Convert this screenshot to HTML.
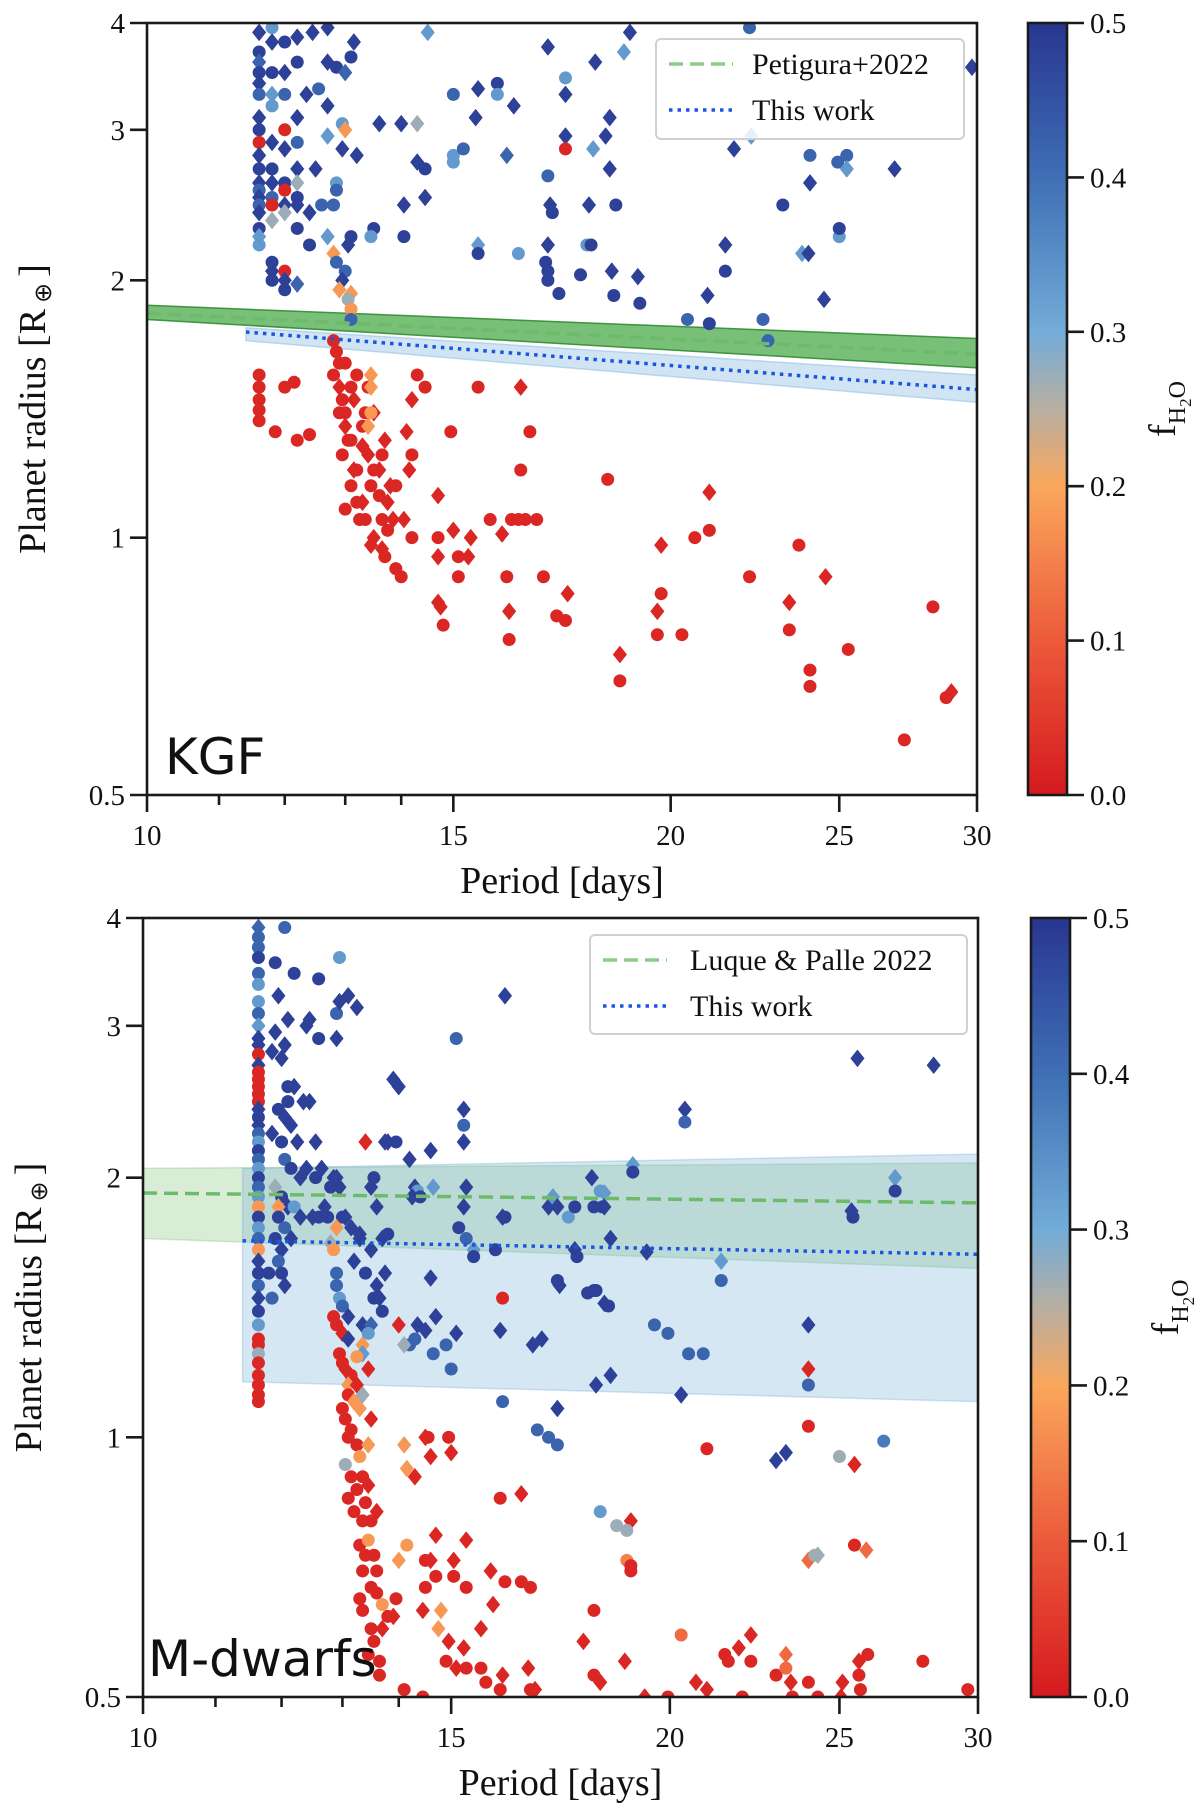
<!DOCTYPE html>
<html><head><meta charset="utf-8">
<style>
html,body{margin:0;padding:0;background:#fff;}
svg{display:block;}
text{font-family:"Liberation Serif",serif;fill:#111;}
</style></head>
<body>
<svg id="fig" xmlns="http://www.w3.org/2000/svg" width="1200" height="1810" viewBox="0 0 1200 1810">
<defs>
<linearGradient id="cmap" x1="0" y1="1" x2="0" y2="0">
<stop offset="0" stop-color="#d51a1f"/>
<stop offset="0.2" stop-color="#ec5a3a"/>
<stop offset="0.4" stop-color="#faa75c"/>
<stop offset="0.5" stop-color="#b8aea2"/>
<stop offset="0.6" stop-color="#72acd8"/>
<stop offset="0.8" stop-color="#3f6fb5"/>
<stop offset="1" stop-color="#283691"/>
</linearGradient>
</defs>
<g id="panelTop"></g>
<g id="panelBot"></g>
</svg>
<script>
// ---- data (period [d], radius [R_earth], f_H2O, shape 0=circle 1=diamond) ----
const xTickValues = [10,11,12,13,14,15,20,25,30];
const xTickLabels = ["10","","","","","15","20","25","30"];
const yTickValues = [0.5,1,2,3,4];
const yTickLabels = ["0.5","1","2","3","4"];
const cbTickValues = [0,0.1,0.2,0.3,0.4,0.5];
const cbTickLabels = ["0.0","0.1","0.2","0.3","0.4","0.5"];

const kgfColumn = [
[11.6,3.9,0.48,1],[11.6,3.7,0.48,0],[11.6,3.6,0.42,1],[11.6,3.5,0.48,0],[11.6,3.4,0.48,1],[11.6,3.3,0.42,0],[11.6,3.1,0.48,1],[11.6,3.0,0.48,0],[11.6,2.9,0.02,0],[11.6,2.8,0.48,1],[11.6,2.7,0.48,0],[11.6,2.6,0.48,1],[11.6,2.55,0.42,0],[11.6,2.5,0.48,1],[11.6,2.45,0.42,0],[11.6,2.4,0.48,1],[11.6,2.3,0.48,0],[11.6,2.25,0.33,1],[11.6,2.2,0.33,0],
[11.8,3.95,0.33,0],[11.8,3.8,0.48,1],[11.8,3.5,0.48,0],[11.8,3.3,0.33,1],[11.8,3.2,0.33,0],[11.8,2.9,0.48,1],[11.8,2.7,0.48,0],[11.8,2.6,0.48,1],[11.8,2.5,0.42,0],[11.8,2.45,0.02,0],[11.8,2.35,0.27,1],[11.8,2.1,0.48,0],[11.8,2.05,0.48,1],[11.8,2.0,0.48,0],
[12.0,3.8,0.48,0],[12.0,3.5,0.48,1],[12.0,3.3,0.42,0],[12.0,3.0,0.02,0],[12.0,2.85,0.48,1],[12.0,2.6,0.48,0],[12.0,2.55,0.02,0],[12.0,2.45,0.48,1],[12.0,2.4,0.27,1],[12.0,2.05,0.02,0],[12.0,2.0,0.48,1],[12.0,1.95,0.48,0],
[12.2,3.85,0.48,1],[12.2,3.6,0.48,0],[12.2,3.1,0.48,1],[12.2,2.9,0.42,0],[12.2,2.7,0.48,1],[12.2,2.6,0.27,1],[12.2,2.5,0.48,0],[12.2,2.45,0.48,1],[12.2,2.3,0.48,0],[12.2,1.98,0.42,1],
[12.45,3.9,0.48,1],[12.7,3.95,0.48,1],[13.15,3.8,0.48,1],[13.1,3.65,0.48,0],[12.7,3.6,0.48,1],[12.85,3.55,0.48,0],[13.0,3.5,0.42,1],[12.35,3.3,0.48,1],[12.55,3.35,0.42,0],[12.7,3.2,0.48,1],[12.95,3.05,0.33,0],[13.0,3.0,0.18,1],[12.7,2.95,0.33,1],[12.95,2.85,0.48,1],[13.2,2.8,0.48,1],[12.5,2.7,0.48,1],[12.85,2.6,0.33,0],[12.85,2.55,0.42,0],[12.8,2.45,0.42,0],[12.4,2.4,0.48,1],[12.7,2.25,0.33,1],[13.05,2.2,0.48,1],[13.1,2.25,0.48,0],[12.8,2.15,0.18,1],[12.85,2.1,0.42,0],[13.0,2.05,0.42,0],[12.95,2.0,0.48,1],[12.9,1.95,0.18,1],[13.1,1.93,0.18,1],[13.05,1.9,0.27,0],[13.1,1.85,0.18,0],[13.1,1.8,0.42,0],[12.4,2.2,0.48,0],[12.6,2.45,0.42,0]
];
const kgfUpper = [
[13.5,2.3,0.48,0],[13.45,2.25,0.33,0],[13.6,3.05,0.48,1],[14.0,3.05,0.48,1],[14.05,2.25,0.48,0],[14.05,2.45,0.48,1],[14.3,3.05,0.27,1],[14.3,2.75,0.48,1],[14.45,2.5,0.48,1],[14.45,2.7,0.48,0],[14.5,3.9,0.33,1],[15.0,3.3,0.42,0],[15.0,2.8,0.33,0],[15.0,2.75,0.33,0],[15.2,2.85,0.42,0],[15.45,3.1,0.48,1],[15.5,3.35,0.48,1],[15.5,2.2,0.33,1],[15.5,2.15,0.48,0],[15.9,3.4,0.48,0],[15.9,3.3,0.33,0],[16.1,2.8,0.42,1],[16.25,3.2,0.48,1],[16.35,2.15,0.33,0],[17.0,3.75,0.48,1],[17.0,2.65,0.42,0],[17.05,2.45,0.48,1],[17.1,2.4,0.48,0],[17.0,2.2,0.48,1],[16.95,2.1,0.48,0],[17.0,2.05,0.48,0],[17.0,2.0,0.48,0],[17.25,1.93,0.48,0],[17.4,3.45,0.33,0],[17.4,3.3,0.48,1],[17.4,2.95,0.48,1],[17.4,2.85,0.02,0],[17.75,2.03,0.48,0],[17.9,2.2,0.33,0],[18.0,2.2,0.48,0],[17.95,2.45,0.48,1],[18.05,2.85,0.33,1],[18.1,3.6,0.48,1],[18.35,2.95,0.48,1],[18.45,2.7,0.48,1],[18.45,3.1,0.48,1],[18.5,2.05,0.48,1],[18.55,1.92,0.48,0],[18.6,2.45,0.48,0],[18.8,3.7,0.33,1],[18.95,3.9,0.48,1],[19.15,2.02,0.48,1],[19.2,1.88,0.48,0],
[20.45,1.8,0.42,0],[21.0,1.92,0.48,1],[21.05,1.78,0.48,0],[21.5,2.2,0.48,1],[21.5,2.05,0.48,0],[21.75,2.85,0.48,1],[22.2,3.95,0.42,0],[22.25,2.95,0.33,1],[22.6,1.8,0.42,0],[22.75,1.7,0.42,0],[23.2,2.45,0.48,0],[23.8,2.15,0.33,1],[24.05,2.8,0.42,0],[24.05,2.6,0.48,1],[24.0,2.15,0.48,1],[24.5,1.9,0.48,1],[24.95,2.75,0.42,0],[25.0,2.25,0.33,0],[25.0,2.3,0.48,0],[25.25,2.8,0.42,0],[25.25,2.7,0.33,1],[26.9,2.7,0.48,1],[29.8,3.55,0.48,1]
];
const kgfLower = [
[12.8,1.7,0.02,0],[12.85,1.65,0.02,0],[12.9,1.6,0.02,0],[12.8,1.55,0.02,0],[12.9,1.5,0.02,1],[12.95,1.45,0.02,0],[12.9,1.4,0.02,0],[13.0,1.35,0.02,1],[13.1,1.3,0.02,0],[12.95,1.25,0.02,0],[13.15,1.2,0.02,1],[13.1,1.15,0.02,0],[13.3,1.1,0.02,1],[13.35,1.05,0.02,0],[13.5,1.0,0.02,1],[13.65,0.97,0.02,1],[13.7,0.95,0.02,0],[13.9,0.92,0.02,0],[14.0,0.9,0.02,0],[13.45,1.15,0.02,0],[13.6,1.2,0.02,1],[13.75,1.1,0.02,1],[13.65,1.05,0.02,0],[13.2,1.1,0.02,0],[13.4,1.25,0.02,1],[13.3,1.35,0.02,0],[13.15,1.45,0.02,1],[13.0,1.6,0.02,0],[13.25,1.05,0.02,0],[13.45,0.98,0.02,1],[13.75,1.02,0.02,0],[13.3,1.28,0.02,1],[13.5,1.4,0.02,1],[13.7,1.3,0.02,1],[13.8,1.15,0.02,1],[14.05,1.05,0.02,1],[14.2,1.0,0.02,0],[13.35,1.4,0.02,0],[13.4,1.5,0.02,0],[13.5,1.2,0.02,0],[13.65,1.25,0.02,0],[13.9,1.15,0.02,0],[14.15,1.2,0.02,1],[13.1,1.5,0.02,0],[13.2,1.55,0.02,0],[13.0,1.4,0.02,0],[13.05,1.3,0.02,0],[13.2,1.2,0.02,0],[13.6,1.12,0.02,0],[13.85,1.05,0.02,1],
[13.45,1.55,0.18,1],[13.45,1.5,0.18,1],[13.45,1.4,0.18,0],[13.4,1.35,0.18,1],
[11.6,1.55,0.02,0],[11.6,1.5,0.02,0],[11.6,1.45,0.02,0],[11.6,1.41,0.02,0],[11.6,1.37,0.02,0],[11.85,1.33,0.02,0],[12.0,1.5,0.02,0],[12.15,1.52,0.02,0],[12.2,1.3,0.02,0],[12.4,1.32,0.02,0],[13.0,1.08,0.02,0],
[14.3,1.55,0.02,0],[14.45,1.5,0.02,0],[14.2,1.45,0.02,1],[14.1,1.33,0.02,1],[14.2,1.25,0.02,0],[14.7,1.12,0.02,1],[14.95,1.33,0.02,0],[15.5,1.5,0.02,0],[15.75,1.05,0.02,0],[16.0,1.01,0.02,1],[16.1,0.9,0.02,0],[16.15,0.82,0.02,1],[16.15,0.76,0.02,0],[16.4,1.5,0.02,1],[16.4,1.2,0.02,0],[16.6,1.33,0.02,0],[16.75,1.05,0.02,0],[16.2,1.05,0.02,0],[16.35,1.05,0.02,0],[16.5,1.05,0.02,0],[16.9,0.9,0.02,0],[17.2,0.81,0.02,0],[17.4,0.8,0.02,0],[17.45,0.86,0.02,1],[18.4,1.17,0.02,0],[18.7,0.73,0.02,1],[18.7,0.68,0.02,0],[19.65,0.82,0.02,1],[19.65,0.77,0.02,0],[19.75,0.98,0.02,1],[19.75,0.86,0.02,0],[20.3,0.77,0.02,0],[20.65,1.0,0.02,0],[21.05,1.02,0.02,0],[21.05,1.13,0.02,1],[22.2,0.9,0.02,0],[23.4,0.84,0.02,1],[23.4,0.78,0.02,0],[23.7,0.98,0.02,0],[24.05,0.7,0.02,0],[24.05,0.67,0.02,0],[24.55,0.9,0.02,1],[25.3,0.74,0.02,0],[27.25,0.58,0.02,0],[28.3,0.83,0.02,0],[28.8,0.65,0.02,0],[29.0,0.66,0.02,1],[15.0,1.02,0.02,1],[15.1,0.95,0.02,0],[15.1,0.9,0.02,0],[15.3,0.95,0.02,1],[15.35,1.0,0.02,1],[14.7,1.0,0.02,0],[14.7,0.95,0.02,1],[14.7,0.84,0.02,1],[14.8,0.79,0.02,0],[14.75,0.83,0.02,1]
];
const kgfBandPeriod = [10,30];
const kgfLitLine = [1.83,1.64];
const kgfLitLow = [1.80,1.58];
const kgfLitHigh = [1.87,1.71];
const kgfWorkPeriod = [11.4,30];
const kgfWorkLine = [1.74,1.49];
const kgfWorkLow = [1.70,1.44];
const kgfWorkHigh = [1.76,1.55];

const mdColumn = [
[11.64,3.9,0.42,1],[11.64,3.8,0.42,0],[11.64,3.7,0.42,0],[11.64,3.6,0.48,0],[11.64,3.45,0.42,0],[11.64,3.35,0.33,0],[11.64,3.2,0.33,0],[11.64,3.1,0.42,0],[11.64,3.0,0.33,1],[11.64,2.9,0.48,1],[11.64,2.85,0.48,1],[11.64,2.78,0.02,0],[11.64,2.7,0.48,1],[11.64,2.65,0.02,0],[11.64,2.6,0.02,0],[11.64,2.55,0.02,0],[11.64,2.5,0.02,0],[11.64,2.45,0.02,0],[11.64,2.4,0.48,1],[11.64,2.35,0.48,0],[11.64,2.3,0.48,1],[11.64,2.25,0.42,0],[11.64,2.2,0.33,0],[11.64,2.15,0.48,0],[11.64,2.1,0.42,0],[11.64,2.05,0.33,0],[11.64,2.0,0.48,0],[11.64,1.95,0.42,0],[11.64,1.9,0.33,0],[11.64,1.85,0.18,0],[11.64,1.8,0.48,0],[11.64,1.75,0.33,0],[11.64,1.7,0.42,0],[11.64,1.65,0.18,0],[11.64,1.6,0.48,1],[11.64,1.55,0.48,0],[11.64,1.5,0.42,0],[11.64,1.45,0.48,1],[11.64,1.4,0.48,0],[11.64,1.35,0.33,0],[11.64,1.3,0.02,0],[11.64,1.28,0.02,0],[11.64,1.25,0.27,0],[11.64,1.22,0.02,0],[11.64,1.18,0.02,0],[11.64,1.15,0.02,0],[11.64,1.12,0.02,0],[11.64,1.1,0.02,0],
[12.05,3.9,0.42,0],[11.9,3.55,0.48,0],[11.95,3.25,0.48,1],[12.2,3.45,0.48,0],[11.9,2.95,0.48,1],[11.85,2.8,0.48,1],[12.0,2.75,0.48,1],[12.05,2.85,0.48,1],[12.1,2.55,0.48,0],[12.2,2.55,0.48,1],[12.35,2.45,0.48,1],[11.95,2.4,0.48,0],[12.05,2.35,0.48,1],[12.1,2.45,0.48,0],[12.15,2.3,0.48,1],[11.85,2.25,0.48,1],[12.0,2.2,0.48,0],[12.25,2.2,0.48,1],[12.05,2.1,0.42,0],[12.15,2.05,0.48,0],[12.3,2.0,0.48,1],[12.4,2.05,0.48,1],[11.9,1.95,0.27,1],[12.0,1.9,0.48,0],[12.1,1.85,0.48,1],[11.95,1.85,0.18,1],[12.2,1.85,0.33,0],[12.3,1.8,0.48,1],[11.95,1.8,0.48,0],[12.05,1.75,0.42,0],[11.9,1.7,0.48,0],[12.15,1.7,0.48,1],[12.0,1.65,0.48,1],[11.95,1.6,0.42,0],[12.0,1.55,0.48,0],[11.8,1.55,0.48,0],[12.05,1.5,0.48,1],[11.85,1.45,0.42,0],[12.1,3.05,0.48,1],[12.4,3.0,0.48,1],[12.45,3.05,0.48,1],[12.6,2.9,0.48,0],[12.9,2.9,0.48,1],[12.9,3.1,0.42,0],[12.95,3.2,0.48,1],[13.1,3.25,0.48,1],[13.25,3.15,0.48,1],[12.95,3.6,0.33,0],[12.6,3.4,0.48,0],[12.45,2.45,0.48,1],[12.55,2.2,0.48,1],[12.5,1.8,0.48,1],[12.6,1.8,0.48,0],[12.7,1.85,0.48,1],[12.75,1.8,0.48,0],[12.85,2.0,0.48,1],[12.8,1.95,0.48,0],[12.55,2.0,0.48,0],[12.65,2.05,0.48,1],[12.9,2.0,0.48,1],[12.95,1.95,0.48,1],[13.0,1.8,0.48,0],[13.05,1.8,0.48,1],[13.15,1.75,0.48,1],[13.3,1.72,0.48,1]
];
const mdLowerCurve = [
[12.9,1.75,0.18,1],[12.8,1.68,0.27,1],[12.85,1.65,0.18,0],[12.9,1.55,0.42,0],[12.9,1.5,0.42,0],[12.95,1.45,0.33,0],[13.0,1.42,0.42,0],[13.1,1.38,0.48,1],[12.85,1.38,0.02,0],[12.9,1.35,0.02,0],[13.0,1.32,0.02,1],[13.1,1.3,0.48,1],[12.95,1.25,0.02,0],[13.0,1.22,0.02,0],[13.05,1.2,0.02,1],[13.15,1.18,0.02,0],[13.1,1.15,0.18,1],[13.25,1.15,0.02,1],[13.1,1.12,0.02,0],[13.2,1.1,0.18,1],[13.3,1.08,0.18,1],[13.0,1.08,0.02,0],[13.05,1.05,0.02,0],[13.15,1.02,0.02,0],[13.1,1.0,0.02,0],[13.25,0.98,0.02,0],[13.3,0.95,0.18,0],[13.05,0.93,0.27,0],[13.15,0.9,0.02,0],[13.35,0.9,0.02,0],[13.25,0.87,0.02,0],[13.45,0.88,0.02,1],[13.1,0.85,0.02,0],[13.4,0.84,0.02,0],[13.2,0.82,0.02,0],[13.35,0.8,0.02,0],[13.5,0.8,0.02,0],[13.6,0.82,0.02,1],[13.3,0.75,0.02,0],[13.45,0.76,0.18,0],[13.4,0.73,0.02,0],[13.55,0.73,0.02,0],[13.6,0.7,0.02,0],[13.35,0.7,0.02,0],[13.5,0.67,0.02,0],[13.6,0.66,0.02,0],[13.3,0.65,0.02,0],[13.7,0.64,0.18,0],[13.35,0.63,0.02,0],[13.8,0.62,0.02,0],[13.5,0.6,0.02,0],[13.55,0.58,0.02,0],[13.45,0.56,0.02,0],[13.35,1.28,0.18,1],[13.35,1.25,0.33,1],[13.45,1.2,0.02,1],[13.25,1.24,0.18,0],[13.5,1.05,0.02,1],[13.45,0.98,0.18,1],[13.35,1.12,0.27,1]
];
const mdUpper = [
[13.5,1.95,0.48,1],[13.6,1.85,0.48,1],[13.3,1.7,0.48,1],[13.5,1.65,0.48,1],[13.2,1.6,0.48,1],[13.4,1.55,0.48,0],[13.6,1.5,0.48,1],[13.55,1.45,0.48,0],[13.65,1.45,0.48,1],[13.7,1.4,0.48,0],[13.35,1.35,0.48,1],[13.5,1.35,0.42,1],[13.45,1.32,0.33,0],[13.8,2.2,0.48,1],[13.95,2.2,0.48,0],[13.75,2.2,0.48,1],[13.55,2.0,0.48,0],[13.7,1.7,0.48,1],[13.8,1.72,0.48,0],[13.75,1.55,0.48,1],[13.4,2.2,0.02,1],[14.0,2.55,0.48,1],[14.2,2.1,0.48,1],[14.3,1.95,0.48,1],[14.35,1.93,0.33,0],[14.4,1.9,0.48,0],[14.25,1.9,0.48,1],[14.6,2.15,0.48,1],[14.65,1.95,0.33,1],[15.25,2.4,0.48,1],[15.25,2.3,0.42,0],[15.25,2.2,0.48,1],[15.3,1.95,0.48,1],[15.25,1.85,0.48,1],[15.15,1.75,0.48,0],[15.3,1.7,0.42,0],[15.45,1.65,0.33,1],[15.45,1.62,0.48,0],[14.6,1.53,0.48,1],[14.7,1.38,0.48,1],[14.35,1.35,0.48,1],[14.3,1.3,0.42,0],[14.5,1.33,0.48,1],[14.2,1.28,0.42,0],[14.1,1.28,0.27,1],[14.0,1.35,0.02,1],[14.65,1.25,0.42,0],[14.9,1.28,0.42,0],[15.1,1.32,0.48,1],[15.0,1.2,0.42,0],[15.9,1.65,0.48,0],[16.05,1.8,0.48,1],[16.1,1.8,0.48,0],[16.05,1.45,0.02,0],[16.0,1.33,0.48,1],[16.05,1.1,0.42,0],[16.7,1.28,0.48,1],[16.9,1.3,0.48,1],[16.8,1.02,0.42,0],[17.05,1.0,0.42,0],[17.25,1.08,0.48,1],[17.25,0.98,0.42,0],[17.05,1.85,0.48,1],[17.15,1.9,0.33,1],[17.25,1.85,0.48,1],[17.5,1.8,0.33,0],[17.65,1.85,0.48,0],[17.65,1.65,0.48,1],[17.7,1.62,0.48,0],[17.25,1.52,0.48,0],[17.3,1.5,0.48,1],[17.95,1.47,0.48,0],[18.1,1.48,0.48,0],[18.15,1.48,0.48,0],[18.35,1.43,0.48,1],[18.45,1.42,0.48,0],[18.05,2.0,0.48,1],[18.25,1.93,0.33,0],[18.35,1.92,0.33,1],[18.1,1.85,0.48,0],[18.3,1.85,0.48,0],[18.35,1.85,0.48,1],[18.5,1.7,0.48,1],[19.05,2.07,0.33,1],[19.05,2.03,0.48,0],[19.4,1.64,0.48,1],[19.6,1.35,0.42,0],[19.95,1.32,0.42,0],[20.5,1.25,0.42,0],[20.9,1.25,0.42,0],[20.3,1.12,0.48,1],[18.15,1.15,0.48,1],[18.5,1.18,0.48,1],[21.4,1.6,0.33,1],[21.4,1.52,0.42,0],[24.0,1.35,0.48,1],[24.0,1.15,0.42,0],[23.3,0.96,0.48,1],[23.0,0.94,0.48,1],[20.4,2.4,0.48,1],[20.4,2.32,0.42,0],[26.9,2.0,0.33,1],[26.9,1.93,0.48,0],[25.4,1.83,0.48,1],[25.45,1.8,0.48,0],[25.6,2.75,0.48,1],[28.3,2.7,0.48,1],[15.1,2.9,0.42,0],[16.1,3.25,0.48,1],[13.9,2.6,0.48,1],[26.5,0.99,0.38,0],[18.25,0.82,0.33,0]
];
const mdScatterLow = [
[14.5,1.0,0.02,1],[14.55,1.0,0.02,0],[14.6,0.95,0.02,1],[14.3,0.9,0.02,1],[14.95,1.0,0.02,0],[15.0,0.96,0.02,1],[14.15,0.92,0.18,1],[14.1,0.98,0.18,1],[14.7,0.77,0.02,1],[14.5,0.72,0.02,0],[14.6,0.72,0.02,1],[14.0,0.72,0.18,1],[14.15,0.75,0.18,0],[14.7,0.69,0.02,0],[15.05,0.72,0.02,1],[15.05,0.69,0.02,0],[15.3,0.76,0.02,1],[15.3,0.67,0.02,0],[15.6,0.6,0.02,1],[15.8,0.7,0.02,1],[15.85,0.64,0.02,1],[16.0,0.85,0.02,0],[16.1,0.68,0.02,0],[16.45,0.86,0.02,1],[16.45,0.68,0.02,0],[16.65,0.67,0.02,0],[14.5,0.67,0.02,0],[14.45,0.63,0.02,1],[14.8,0.63,0.18,1],[14.75,0.6,0.18,1],[14.95,0.58,0.02,1],[14.9,0.55,0.02,0],[15.25,0.57,0.02,1],[15.1,0.54,0.02,1],[15.3,0.54,0.02,0],[15.6,0.54,0.02,0],[15.7,0.52,0.02,0],[16.05,0.53,0.02,1],[16.0,0.51,0.02,0],[16.6,0.54,0.02,1],[16.65,0.51,0.02,0],[16.75,0.51,0.02,1],[14.1,0.51,0.02,0],[14.45,0.5,0.02,0],[13.95,0.65,0.02,0],[13.9,0.62,0.02,1],[13.7,0.6,0.02,1],[13.65,0.55,0.02,0],[13.65,0.53,0.02,0],[17.85,0.58,0.02,1],[18.1,0.53,0.02,0],[18.25,0.52,0.02,1],[18.1,0.63,0.02,0],[18.85,0.55,0.02,1],[19.0,0.8,0.02,1],[19.0,0.7,0.02,0],[19.35,0.5,0.02,1],[19.95,0.5,0.02,0],[20.3,0.59,0.12,0],[20.7,0.52,0.02,1],[21.0,0.97,0.02,0],[21.0,0.51,0.02,1],[21.5,0.56,0.02,0],[21.6,0.55,0.02,0],[21.9,0.57,0.02,1],[22.25,0.59,0.02,1],[22.25,0.55,0.02,0],[22.0,0.5,0.02,0],[23.0,0.53,0.02,0],[23.3,0.54,0.12,0],[23.45,0.52,0.02,1],[23.3,0.56,0.12,1],[23.5,0.5,0.02,0],[24.0,0.52,0.02,0],[24.0,1.2,0.02,1],[24.0,1.03,0.02,0],[24.3,0.5,0.02,0],[25.05,0.5,0.02,1],[25.1,0.52,0.02,1],[25.5,0.93,0.02,1],[25.5,0.75,0.02,0],[25.65,0.55,0.02,1],[25.65,0.53,0.02,0],[25.7,0.51,0.02,0],[25.95,0.56,0.02,0],[25.9,0.74,0.12,1],[27.9,0.55,0.02,0],[29.6,0.51,0.02,0],[24.0,0.72,0.12,1],[24.2,0.73,0.27,0],[24.3,0.73,0.27,1],[25.0,0.95,0.27,0],[18.65,0.79,0.27,0],[18.9,0.78,0.27,0],[18.9,0.72,0.15,0],[19.0,0.71,0.02,0]
];
const mdBandPeriod = [10,30];
const mdLitLine = [1.92,1.87];
const mdLitLow = [1.70,1.57];
const mdLitHigh = [2.05,2.08];
const mdWorkPeriod = [11.4,30];
const mdWorkLine = [1.69,1.63];
const mdWorkLow = [1.16,1.10];
const mdWorkHigh = [2.05,2.13];

// ---- drawing ----
const NS="http://www.w3.org/2000/svg";
function mk(parent,tag,attrs){const e=document.createElementNS(NS,tag);for(const k in attrs)e.setAttribute(k,attrs[k]);parent.appendChild(e);return e;}
const cstops=[[0,[213,26,31]],[0.1,[236,90,58]],[0.2,[250,167,92]],[0.25,[184,174,162]],[0.3,[114,172,216]],[0.4,[63,111,181]],[0.5,[40,54,145]]];
function cmap(v){v=Math.max(0,Math.min(0.5,v));for(let i=1;i<cstops.length;i++){if(v<=cstops[i][0]){const a=cstops[i-1],b=cstops[i];const t=(v-a[0])/(b[0]-a[0]);const c=a[1].map((x,j)=>Math.round(x+(b[1][j]-x)*t));return `rgb(${c[0]},${c[1]},${c[2]})`;}}return "rgb(40,54,145)";}

function drawPanel(g,cfg){
  const L=cfg.L,R=cfg.R,T=cfg.T,B=cfg.B;
  const sx=p=>L+(R-L)*Math.log(p/10)/Math.log(3);
  const sy=r=>T+(B-T)*Math.log(4/r)/Math.log(8);
  const clip=mk(g,"clipPath",{id:cfg.id+"clip"});mk(clip,"rect",{x:L,y:T,width:R-L,height:B-T});
  const plot=mk(g,"g",{"clip-path":`url(#${cfg.id}clip)`});
  function band(per,lo,hi,fill,stroke,name){
    const pts=[[sx(per[0]),sy(hi[0])],[sx(per[1]),sy(hi[1])],[sx(per[1]),sy(lo[1])],[sx(per[0]),sy(lo[0])]];
    const p=mk(plot,"polygon",{points:pts.map(q=>q.join(",")).join(" "),fill:fill,stroke:stroke,"stroke-width":1.5});
    
    
  }
  band(cfg.litPer,cfg.litLow,cfg.litHigh,cfg.litFill,cfg.litStroke,"literature-band");
  band(cfg.workPer,cfg.workLow,cfg.workHigh,cfg.workFill,cfg.workStroke,"this-work-band");
  const pg=mk(plot,"g",{});
  cfg.points.forEach(pt=>{
    const x=sx(pt[0]),y=sy(pt[1]),c=cmap(pt[2]);let e;
    if(pt[3]===1){const d=8.5;e=mk(pg,"polygon",{points:`${x},${y-d} ${x+d*0.8},${y} ${x},${y+d} ${x-d*0.8},${y}`,fill:c,stroke:c,"stroke-width":0.5});}
    else{e=mk(pg,"circle",{cx:x,cy:y,r:6.5,fill:c});}
    
    
  });
  const l1=mk(plot,"line",{x1:sx(cfg.litPer[0]),y1:sy(cfg.litLine[0]),x2:sx(cfg.litPer[1]),y2:sy(cfg.litLine[1]),stroke:"#6dbb6a","stroke-width":3.5,"stroke-dasharray":"14,7"});
  
  
  const l2=mk(plot,"line",{x1:sx(cfg.workPer[0]),y1:sy(cfg.workLine[0]),x2:sx(cfg.workPer[1]),y2:sy(cfg.workLine[1]),stroke:"#1a55e0","stroke-width":3.5,"stroke-dasharray":"3.5,5"});
  
  
  // legend
  const lg=mk(g,"g",{});
  
  
  mk(lg,"rect",{x:cfg.lg.x,y:cfg.lg.y,width:cfg.lg.w,height:cfg.lg.h,rx:5,fill:"rgba(255,255,255,0.85)",stroke:"#d0d0d0","stroke-width":2});
  mk(lg,"line",{x1:cfg.lg.x+13,x2:cfg.lg.x+77,y1:cfg.lg.y+25,y2:cfg.lg.y+25,stroke:"#8ccc88","stroke-width":3.5,"stroke-dasharray":"14,7"});
  mk(lg,"line",{x1:cfg.lg.x+13,x2:cfg.lg.x+77,y1:cfg.lg.y+71,y2:cfg.lg.y+71,stroke:"#1a55e0","stroke-width":3.5,"stroke-dasharray":"3.5,5"});
  const t1=mk(lg,"text",{x:cfg.lg.tx,y:cfg.lg.y+35,"font-size":30});t1.textContent=cfg.litName;
  
  
  const t2=mk(lg,"text",{x:cfg.lg.tx,y:cfg.lg.y+81,"font-size":30});t2.textContent="This work";
  
  
  // axes frame
  const fr=mk(g,"rect",{x:L,y:T,width:R-L,height:B-T,fill:"none",stroke:"#1a1a1a","stroke-width":2.6});
  
  
  xTickValues.forEach((v,i)=>{
    const x=sx(v);const big=xTickLabels[i]!=="";const len=big?17:10;
    mk(g,"line",{x1:x,x2:x,y1:B,y2:B+len,stroke:"#1a1a1a","stroke-width":2.6});
    if(big){const t=mk(g,"text",{x:x,y:B+50,"font-size":29,"text-anchor":"middle"});t.textContent=xTickLabels[i];
      
      }
  });
  yTickValues.forEach((v,i)=>{
    const y=sy(v);
    mk(g,"line",{x1:L-17,x2:L,y1:y,y2:y,stroke:"#1a1a1a","stroke-width":2.6});
    const t=mk(g,"text",{x:L-22,y:y+10,"font-size":29,"text-anchor":"end"});t.textContent=yTickLabels[i];
    
    
  });
  const xl=mk(g,"text",{x:(L+R)/2,y:B+98,"font-size":38,"text-anchor":"middle"});xl.textContent="Period [days]";
  
  
  const yc=(T+B)/2;
  const yl=mk(g,"text",{x:cfg.ylx,y:yc,"font-size":38,"text-anchor":"middle",transform:`rotate(-90 ${cfg.ylx} ${yc})`});
  yl.innerHTML='Planet radius [R<tspan font-size="24" dy="6"> ⊕ </tspan><tspan dy="-6">]</tspan>';
  
  
  const ann=mk(g,"text",{x:cfg.ann.x,y:cfg.ann.y,"font-size":cfg.ann.fs,style:'font-family:"DejaVu Sans","Liberation Sans",sans-serif'});ann.textContent=cfg.ann.text;
  
  
  // colorbar
  const cb=mk(g,"g",{});
  
  
  mk(cb,"rect",{x:cfg.cbx,y:T,width:39,height:B-T,fill:"url(#cmap)",stroke:"#1a1a1a","stroke-width":2.6});
  cbTickValues.forEach((v,i)=>{
    const y=B-(B-T)*v/0.5;
    mk(cb,"line",{x1:cfg.cbx+39,x2:cfg.cbx+56,y1:y,y2:y,stroke:"#1a1a1a","stroke-width":2.6});
    const t=mk(cb,"text",{x:cfg.cbx+62,y:y+10,"font-size":29});t.textContent=cbTickLabels[i];
    
    
  });
  const cx=cfg.cbx+147;
  const cl=mk(cb,"text",{x:cx,y:yc,"font-size":38,"text-anchor":"middle",transform:`rotate(-90 ${cx} ${yc})`});
  cl.innerHTML='f<tspan font-size="24" dy="10">H</tspan><tspan font-size="17" dy="6">2</tspan><tspan font-size="24" dy="-6">O</tspan>';
  
  
}

drawPanel(document.getElementById("panelTop"),{
  id:"top",L:147,R:977,T:23,B:795,
  points:[].concat(kgfColumn,kgfUpper,kgfLower),
  litPer:kgfBandPeriod,litLine:kgfLitLine,litLow:kgfLitLow,litHigh:kgfLitHigh,
  workPer:kgfWorkPeriod,workLine:kgfWorkLine,workLow:kgfWorkLow,workHigh:kgfWorkHigh,
  litFill:"rgba(75,170,75,0.75)",litStroke:"rgba(50,140,50,0.9)",
  workFill:"rgba(150,195,230,0.45)",workStroke:"rgba(150,195,230,0.6)",
  litName:"Petigura+2022",
  lg:{x:656,y:39,w:308,h:100,tx:752},
  ylx:45,cbx:1028,
  ann:{x:165,y:774,fs:50,text:"KGF"}
});
drawPanel(document.getElementById("panelBot"),{
  id:"bot",L:143,R:978,T:918,B:1697,
  points:[].concat(mdColumn,mdLowerCurve,mdUpper,mdScatterLow),
  litPer:mdBandPeriod,litLine:mdLitLine,litLow:mdLitLow,litHigh:mdLitHigh,
  workPer:mdWorkPeriod,workLine:mdWorkLine,workLow:mdWorkLow,workHigh:mdWorkHigh,
  litFill:"rgba(130,195,120,0.3)",litStroke:"rgba(130,195,120,0.35)",
  workFill:"rgba(120,175,220,0.3)",workStroke:"rgba(120,175,220,0.35)",
  litName:"Luque & Palle 2022",
  lg:{x:590,y:935,w:377,h:99,tx:690},
  ylx:41,cbx:1031,
  ann:{x:148,y:1676,fs:50,text:"M-dwarfs"}
});
</script>
</body></html>
